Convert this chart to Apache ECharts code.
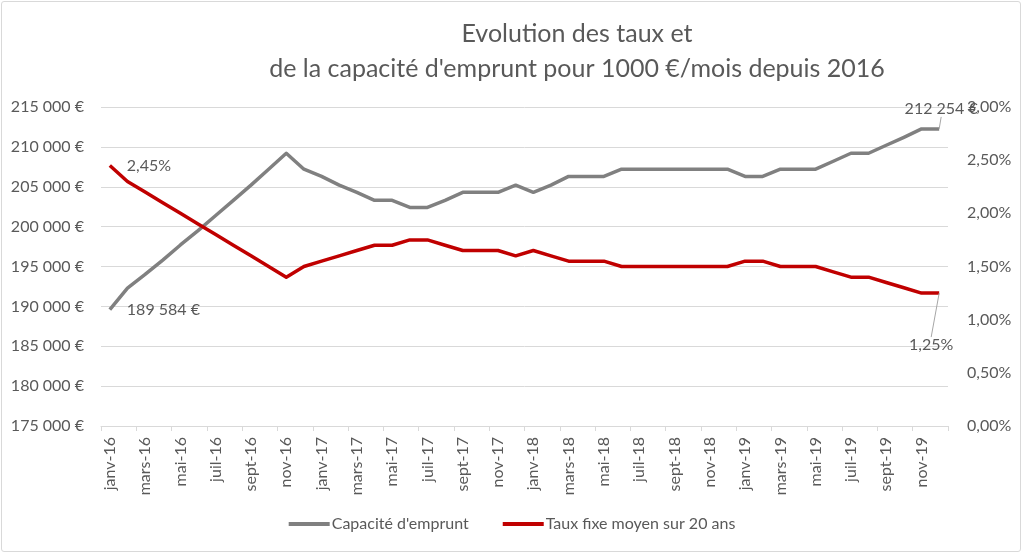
<!DOCTYPE html>
<html>
<head>
<meta charset="utf-8">
<script src="https://cdn.jsdelivr.net/npm/echarts@6/dist/echarts.min.js"></script>
<style>
html,body{margin:0;padding:0;background:#fff;}
#frame{position:absolute;left:1px;top:1px;width:1020px;height:551px;border:1px solid #d9d9d9;border-radius:3px;box-sizing:border-box;}
#chart{position:absolute;left:0;top:0;width:1024px;height:555px;}
</style>
</head>
<body>
<div id="frame"></div>
<div id="chart"></div>
<script>
const months = ['janv','févr','mars','avr','mai','juin','juil','août','sept','oct','nov','déc'];
const years = ['16','17','18','19'];
const categories = [];
years.forEach(y => months.forEach(m => categories.push(m + '-' + y)));

const capacite = [
  189584, 192300, 194000, 195800, 197700, 199500, 201400, 203300, 205200, 207200, 209200, 207200,
  206300, 205200, 204300, 203300, 203300, 202400, 202400, 203300, 204300, 204300, 204300, 205200,
  204300, 205200, 206300, 206300, 206300, 207200, 207200, 207200, 207200, 207200, 207200, 207200,
  206300, 206300, 207200, 207200, 207200, 208200, 209200, 209200, 210200, 211200, 212254, 212254
];
const taux = [
  2.45, 2.30, 2.20, 2.10, 2.00, 1.90, 1.80, 1.70, 1.60, 1.50, 1.40, 1.50,
  1.55, 1.60, 1.65, 1.70, 1.70, 1.75, 1.75, 1.70, 1.65, 1.65, 1.65, 1.60,
  1.65, 1.60, 1.55, 1.55, 1.55, 1.50, 1.50, 1.50, 1.50, 1.50, 1.50, 1.50,
  1.55, 1.55, 1.50, 1.50, 1.50, 1.45, 1.40, 1.40, 1.35, 1.30, 1.25, 1.25
];
const seriesNames = ["Capacité d'emprunt", 'Taux fixe moyen sur 20 ans'];
const titleText = "Evolution des taux et\nde la capacité d'emprunt pour 1000 €/mois depuis 2016";

const FONT = 'Lato, "Open Sans", sans-serif';
const TXT = '#595959';
const FS = 16;

function euro(v){
  return String(Math.round(v)).replace(/\B(?=(\d{3})+(?!\d))/g, ' ') + ' €';
}
function pct(v){
  return v.toFixed(2).replace('.', ',') + '%';
}

const last = categories.length - 1;
const labelBase = {show:true, fontFamily:FONT, fontSize:FS, color:TXT};

const capData = capacite.map((v,i) => {
  if (i === 0) return {value:v, label:Object.assign({}, labelBase, {position:'right', distance:17, formatter:p=>euro(p.value)})};
  if (i === last) return {value:v, label:Object.assign({}, labelBase, {position:'top', distance:4, formatter:p=>euro(p.value)}), labelLine:{show:true}};
  return v;
});
const tauxData = taux.map((v,i) => {
  if (i === 0) return {value:v, label:Object.assign({}, labelBase, {position:'right', distance:17, formatter:p=>pct(p.value)})};
  if (i === last) return {value:v, label:Object.assign({}, labelBase, {position:'bottom', distance:4, formatter:p=>pct(p.value)}), labelLine:{show:true}};
  return v;
});

const chart = echarts.init(document.getElementById('chart'), null, {renderer:'canvas'});
chart.setOption({
  backgroundColor:'transparent',
  animation:false,
  title:{
    text:titleText, left:572, top:11, textAlign:'center',
    textStyle:{fontFamily:FONT, fontSize:25, fontWeight:'normal', color:TXT, lineHeight:35}
  },
  legend:{
    bottom:18, left:'center', itemWidth:41, itemHeight:4, itemGap:34,
    icon:'rect',
    textStyle:{fontFamily:FONT, fontSize:FS, color:TXT, padding:[0,0,0,-3]},
    data:seriesNames
  },
  grid:{left:101, right:76, top:107, bottom:129, containLabel:false},
  xAxis:{
    type:'category', data:categories, boundaryGap:true,
    axisLine:{lineStyle:{color:'#d9d9d9', width:1}},
    axisTick:{show:true, interval:1, length:5, lineStyle:{color:'#d9d9d9'}},
    axisLabel:{interval:1, rotate:90, fontFamily:FONT, fontSize:FS, color:TXT, margin:11}
  },
  yAxis:[
    {
      type:'value', min:175000, max:215000, interval:5000,
      axisLine:{show:false}, axisTick:{show:false},
      splitLine:{lineStyle:{color:'#d9d9d9', width:1}},
      axisLabel:{formatter:euro, fontFamily:FONT, fontSize:FS, color:TXT, margin:17}
    },
    {
      type:'value', min:0, max:3, interval:0.5, position:'right',
      axisLine:{show:false}, axisTick:{show:false}, splitLine:{show:false},
      axisLabel:{formatter:pct, fontFamily:FONT, fontSize:FS, color:TXT, margin:19}
    }
  ],
  series:[
    {
      name:seriesNames[0], type:'line', yAxisIndex:0, data:capData,
      symbol:'circle', symbolSize:0.01, showSymbol:true, smooth:false,
      lineStyle:{color:'#808080', width:3.5, join:'round'},
      itemStyle:{color:'#808080'},
      labelLine:{lineStyle:{color:'#a6a6a6', width:1}},
      labelLayout:p => p.dataIndex === last ? {dy:-8, dx:2} : {},
      z:2
    },
    {
      name:seriesNames[1], type:'line', yAxisIndex:1, data:tauxData,
      symbol:'circle', symbolSize:0.01, showSymbol:true, smooth:false,
      lineStyle:{color:'#c00000', width:3.5, join:'round'},
      itemStyle:{color:'#c00000'},
      labelLine:{lineStyle:{color:'#a6a6a6', width:1}},
      labelLayout:p => p.dataIndex === last ? {dy:40, dx:-8} : {},
      z:3
    }
  ]
});
</script>
</body>
</html>
